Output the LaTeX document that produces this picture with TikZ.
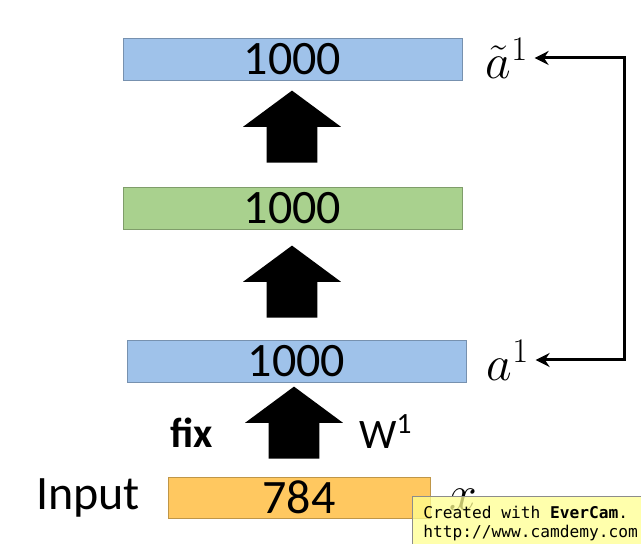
\documentclass[tikz,border=0pt]{standalone}
\usepackage{fontspec}
\setmainfont{Carlito}
\newfontfamily\evercamfont{DejaVu Sans Mono}
\usetikzlibrary{shapes.arrows,arrows.meta}
\definecolor{layerblue}{HTML}{9FC2EA}
\definecolor{layergreen}{HTML}{A9D18E}
\definecolor{layerorange}{HTML}{FFC860}
\definecolor{noteyellow}{HTML}{FFFF90}
\tikzset{
  layer/.style={draw=#1!75!black, fill=#1, minimum width=169.5pt, minimum height=21pt,
    inner sep=0pt, font=\fontsize{24}{28}\selectfont},
  fatarrow/.style={single arrow, fill=black, rotate=90, anchor=tail, minimum height=36pt,
    inner xsep=0pt, inner ysep=12.5pt, single arrow head extend=11.75pt,
    single arrow tip angle=107},
  label/.style={font=\fontsize{24}{28}\selectfont, inner sep=0pt},
  notetext/.style={anchor=base west, inner sep=0pt, font=\evercamfont\fontsize{8.1}{9.5}\selectfont},
}
\begin{document}
\begin{tikzpicture}[x=0.5pt,y=-0.5pt]
    \useasboundingbox (0,0) rectangle (641,544);
    % Draw the layers of the network.
    \node[layer=layerblue] (rec) at (292.5,59) {1000};
    \node[layer=layergreen] (hid) at (292.5,208.5) {1000};
    \node[layer=layerblue] (code) at (296.5,361) {1000};
    \node[layer=layerorange, minimum width=131pt, minimum height=20.5pt] (inp) at (299,497.5) {784};
    % Draw the fat arrows between the layers.
    \node[fatarrow] (up1) at (292,163) {};
    \node[fatarrow] (up2) at (292,318) {};
    \node[fatarrow] (up3) at (294,459) {};
    % Draw the labels.
    \node[label] (inlbl) at (88,498) {Input};
    \node[label, font=\fontsize{21}{24}\selectfont\bfseries] (fix) at (192,433) {fix};
    \node[label, font=\fontsize{21}{24}\selectfont] (w1) at (386,432) {W\textsuperscript{1}};
    \node[label] (atil) at (507,58) {$\tilde{a}^1$};
    \node[label] (a1) at (508,360) {$a^1$};
    \node[label] (x) at (463,500) {$x$};
    % Draw the feedback from the reconstruction to the code.
    \coordinate (fb) at (618,0);
    \draw[line width=1.5pt, {Stealth[length=7pt,width=7pt]}-{Stealth[length=7pt,width=7pt]}]
      ([xshift=3pt]atil.east) -- ([xshift=3pt]atil.east -| fb) -- ([xshift=3pt]a1.east -| fb) -- ([xshift=3pt]a1.east);
    % Draw the recorder note over the picture.
    \node[draw=black!45, fill=noteyellow, fill opacity=0.75, anchor=north west, minimum width=120pt,
      minimum height=26pt, inner sep=0pt] (note) at (412,496) {};
    \node[notetext] (note1) at (423,518) {Created with \textbf{EverCam}.};
    \node[notetext] (note2) at (423,537) {http://www.camdemy.com};
\end{tikzpicture}
\end{document}
